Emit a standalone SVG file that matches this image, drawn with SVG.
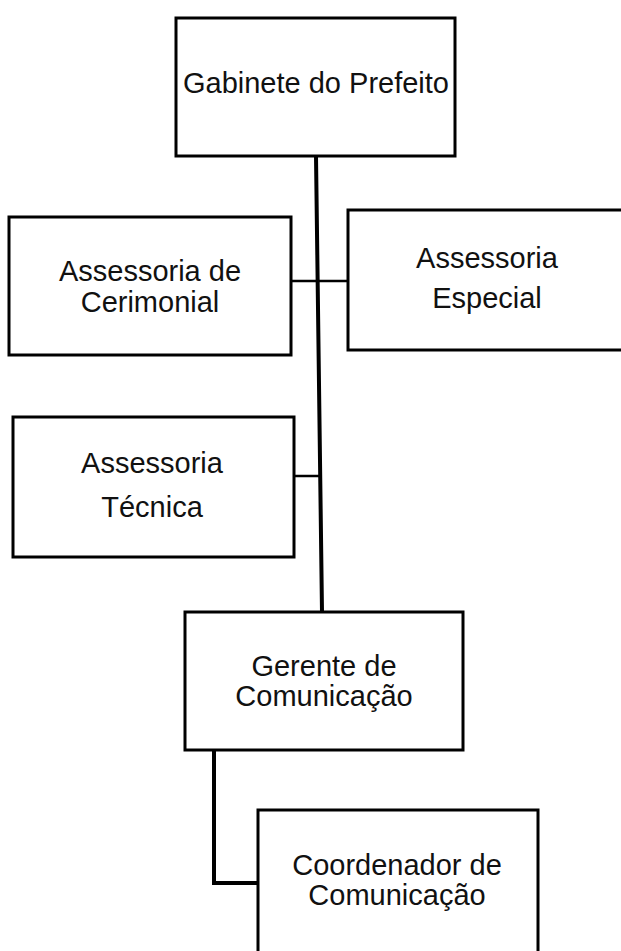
<svg xmlns="http://www.w3.org/2000/svg" width="621" height="951" viewBox="0 0 621 951">
<style>
.box{fill:#fff;stroke:#000;stroke-width:3}
.t{font-family:"Liberation Sans",Arial,sans-serif;font-size:29px;fill:#111;text-anchor:middle}
.c{fill:none;stroke:#000;stroke-linecap:square}
</style>
<rect width="621" height="951" fill="#fff"/>
<g id="connectors">
<path class="c" d="M316 156 L322 612" stroke-width="4"/>
<path class="c" d="M291 281 H348" stroke-width="2.5"/>
<path class="c" d="M294 476 H320" stroke-width="2.5"/>
<path class="c" d="M214 750 V883 H258" stroke-width="4"/>
</g>
<g id="gabinete">
<rect class="box" x="176" y="18" width="279" height="138"/>
<text class="t" x="316" y="93">Gabinete do Prefeito</text>
</g>
<g id="cerimonial">
<rect class="box" x="9" y="217" width="282" height="138"/>
<text class="t" x="150" y="281">Assessoria de</text>
<text class="t" x="150" y="312">Cerimonial</text>
</g>
<g id="especial">
<rect class="box" x="348" y="210" width="290" height="140"/>
<text class="t" x="487" y="268">Assessoria</text>
<text class="t" x="487" y="308">Especial</text>
</g>
<g id="tecnica">
<rect class="box" x="13" y="417" width="281" height="140"/>
<text class="t" x="152" y="473">Assessoria</text>
<text class="t" x="152" y="517">Técnica</text>
</g>
<g id="gerente">
<rect class="box" x="185" y="612" width="278" height="138"/>
<text class="t" x="324" y="676">Gerente de</text>
<text class="t" x="324" y="706">Comunicação</text>
</g>
<g id="coordenador">
<rect class="box" x="258" y="810" width="280" height="150"/>
<text class="t" x="397" y="875">Coordenador de</text>
<text class="t" x="397" y="905">Comunicação</text>
</g>
</svg>
